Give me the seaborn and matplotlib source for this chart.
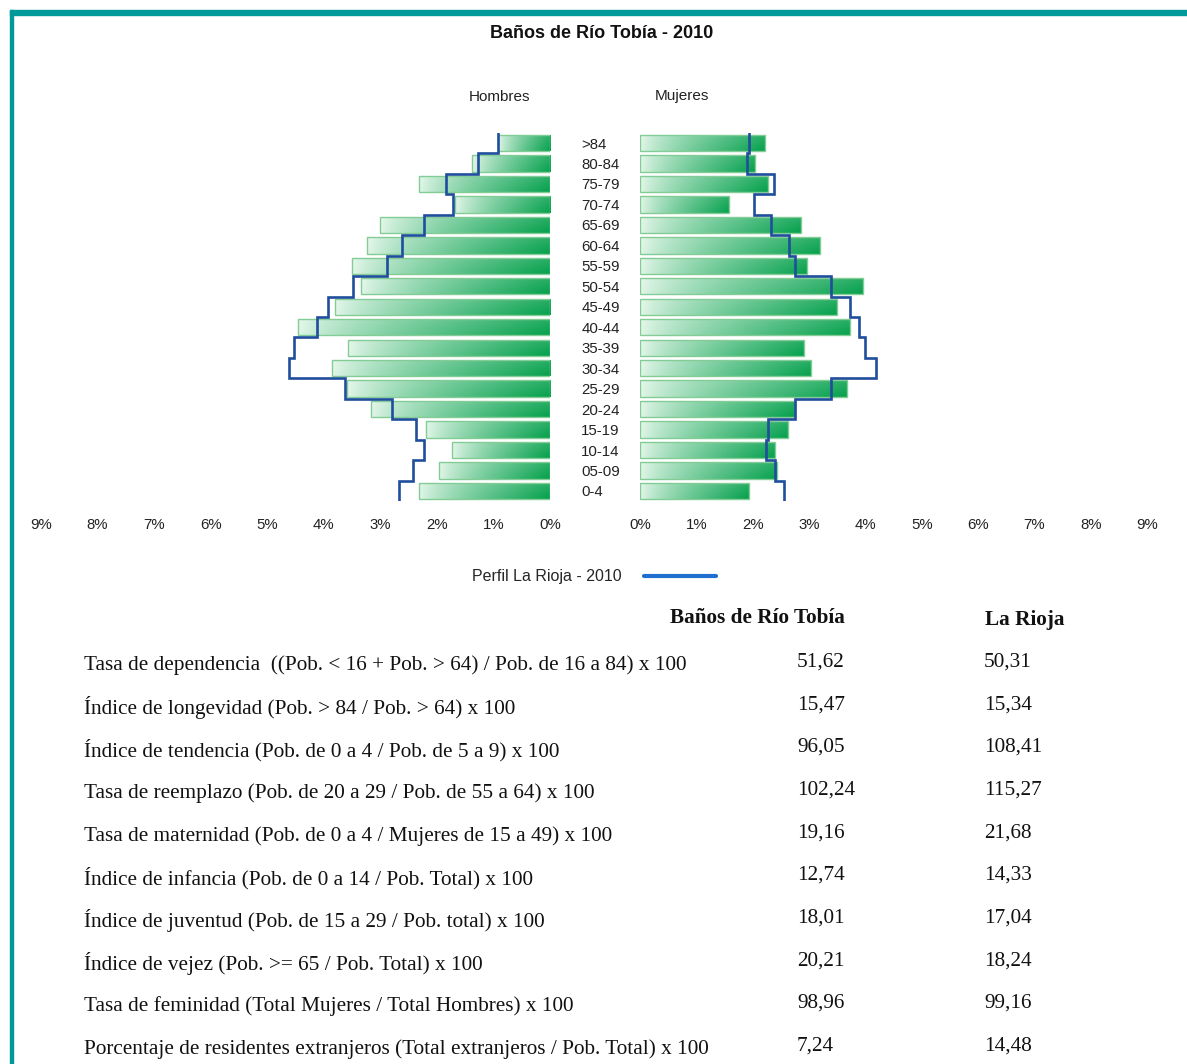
import numpy as np
import seaborn as sns
import matplotlib.pyplot as plt
from matplotlib.patches import Rectangle
from matplotlib.lines import Line2D

# DATA
ages = [">84", "80-84", "75-79", "70-74", "65-69", "60-64", "55-59", "50-54", "45-49",
        "40-44", "35-39", "30-34", "25-29", "20-24", "15-19", "10-14", "05-09", "0-4"]
hombres = [0.92, 1.38, 2.31, 1.68, 3.00, 3.23, 3.50, 3.34, 3.81,
           4.45, 3.57, 3.86, 3.59, 3.16, 2.19, 1.73, 1.96, 2.31]
mujeres = [2.22, 2.04, 2.27, 1.58, 2.85, 3.20, 2.97, 3.96, 3.49,
           3.73, 2.91, 3.03, 3.67, 2.75, 2.62, 2.39, 2.44, 1.93]
rioja_hombres = [0.92, 1.28, 1.84, 1.71, 2.23, 2.61, 2.88, 3.49, 3.92,
                 4.12, 4.52, 4.61, 3.62, 2.80, 2.37, 2.23, 2.43, 2.67]
rioja_mujeres = [1.94, 1.90, 2.37, 2.03, 2.33, 2.65, 2.76, 3.39, 3.72,
                 3.89, 4.00, 4.19, 3.39, 2.76, 2.27, 2.23, 2.40, 2.55]
pct_ticks = list(range(10))

indicadores = [
    "Tasa de dependencia  ((Pob. < 16 + Pob. > 64) / Pob. de 16 a 84) x 100",
    "Índice de longevidad (Pob. > 84 / Pob. > 64) x 100",
    "Índice de tendencia (Pob. de 0 a 4 / Pob. de 5 a 9) x 100",
    "Tasa de reemplazo (Pob. de 20 a 29 / Pob. de 55 a 64) x 100",
    "Tasa de maternidad (Pob. de 0 a 4 / Mujeres de 15 a 49) x 100",
    "Índice de infancia (Pob. de 0 a 14 / Pob. Total) x 100",
    "Índice de juventud (Pob. de 15 a 29 / Pob. total) x 100",
    "Índice de vejez (Pob. >= 65 / Pob. Total) x 100",
    "Tasa de feminidad (Total Mujeres / Total Hombres) x 100",
    "Porcentaje de residentes extranjeros (Total extranjeros / Pob. Total) x 100",
]
valores_banos = ["51,62", "15,47", "96,05", "102,24", "19,16", "12,74", "18,01", "20,21", "98,96", "7,24"]
valores_rioja = ["50,31", "15,34", "108,41", "115,27", "21,68", "14,33", "17,04", "18,24", "99,16", "14,48"]

sns.set_style("white")
plt.rcParams["font.family"] = ["Liberation Sans", "DejaVu Sans"]

W, H = 1187, 1064
fig = plt.figure(figsize=(W / 100, H / 100), dpi=100)


def fx(px):
    return px / W


def fy(py):
    return 1 - py / H


# gradient used inside each bar: pale at left, dark green at right
light = np.array([0.90, 0.97, 0.92])
dark = np.array([0.02, 0.63, 0.30])
t = (np.linspace(0, 1, 256) ** 0.75)[None, :, None]
r = np.linspace(0, 1, 24)[:, None, None]
grad = light * (1 - t) + dark * t
grad = grad + (1 - grad) * (1 - r) * 0.15
grad = np.clip(grad, 0, 1)

ax_bot, ax_top = 501.2, 132.8
ax_l = fig.add_axes([fx(41), fy(ax_bot), fx(550 - 41), (ax_bot - ax_top) / H])
ax_r = fig.add_axes([fx(640), fy(ax_bot), fx(1147 - 640), (ax_bot - ax_top) / H])


def pyramid(ax, vals, rioja, flip):
    sns.barplot(x=vals, y=ages, orient="h", ax=ax, width=0.8, errorbar=None,
                color="#7cc68e")
    ax.set_xlim(0, 9)
    ylim = (len(ages) - 0.5, -0.5)
    for p in ax.patches:
        x0, y0, w, h = p.get_x(), p.get_y(), p.get_width(), p.get_height()
        ext = [x0 + w, x0, y0 + h, y0] if flip else [x0, x0 + w, y0 + h, y0]
        im = ax.imshow(grad, extent=ext, aspect="auto", origin="upper",
                       interpolation="bilinear", zorder=2)
        im.set_clip_path(p)
        p.set_facecolor("none")
        p.set_edgecolor("#84cc96")
        p.set_linewidth(1.0)
        p.set_zorder(3)
    pos = np.arange(len(ages))
    ys = np.column_stack([pos - 0.5, pos + 0.5]).ravel()
    xs = np.repeat(rioja, 2)
    ax.plot(xs, ys, color="#1f4e9c", lw=1.9, zorder=4, solid_joinstyle="miter")
    ax.set_ylim(*ylim)
    ax.set_xlim(0, 9)
    if flip:
        ax.invert_xaxis()
    ax.set_xticks(pct_ticks)
    ax.set_xticklabels([f"{v}%" for v in pct_ticks], fontsize=10.8, color="#222222")
    ax.tick_params(axis="x", length=0, pad=12)
    ax.set_xlabel("")
    ax.set_ylabel("")
    sns.despine(ax=ax, left=True, bottom=True)


pyramid(ax_l, hombres, rioja_hombres, flip=True)
pyramid(ax_r, mujeres, rioja_mujeres, flip=False)

# age group labels between the halves
ax_l.yaxis.tick_right()
ax_l.tick_params(axis="y", length=0, pad=22.5, labelsize=10.8, labelcolor="#222222")
for lab in ax_l.get_yticklabels():
    lab.set_horizontalalignment("left")
ax_r.set_yticks([])

fig.text(fx(602), fy(33), "Baños de Río Tobía - 2010", ha="center", va="center",
         fontsize=13, fontweight="bold", color="#111111")
fig.text(fx(500), fy(97), "Hombres", ha="center", va="center", fontsize=11, color="#222222")
fig.text(fx(682), fy(96), "Mujeres", ha="center", va="center", fontsize=11, color="#222222")

# legend
handle = Line2D([], [], color="#1f6fd0", lw=3)
fig.legend([handle], ["Perfil La Rioja - 2010"], loc="center", bbox_to_anchor=(fx(594), fy(577)),
           frameon=False, markerfirst=False, handlelength=4.5, handletextpad=1.4,
           fontsize=11.5)

# indicators table
serif = ["Liberation Serif", "DejaVu Serif"]
fs = 15.3
fig.text(fx(670), fy(618), "Baños de Río Tobía", ha="left", va="center", fontsize=fs,
         fontweight="bold", family=serif, color="#111111")
fig.text(fx(985), fy(620), "La Rioja", ha="left", va="center", fontsize=fs,
         fontweight="bold", family=serif, color="#111111")
row_y = np.linspace(665, 1049, len(indicadores))
for yy, lab, vb, vr in zip(row_y, indicadores, valores_banos, valores_rioja):
    fig.text(fx(84), fy(yy), lab, ha="left", va="center", fontsize=fs, family=serif, color="#111111")
    fig.text(fx(797), fy(yy - 3), vb, ha="left", va="center", fontsize=fs, family=serif, color="#111111")
    fig.text(fx(984), fy(yy - 3), vr, ha="left", va="center", fontsize=fs, family=serif, color="#111111")

# page frame
teal = "#009999"
fig.patches.append(Rectangle((fx(10), fy(15)), 1, 5 / H, transform=fig.transFigure,
                             color=teal, zorder=0))
fig.patches.append(Rectangle((fx(10), 0), 2.5 / W, fy(10), transform=fig.transFigure,
                             color=teal, zorder=0))

fig.savefig("out.png", dpi=100)
